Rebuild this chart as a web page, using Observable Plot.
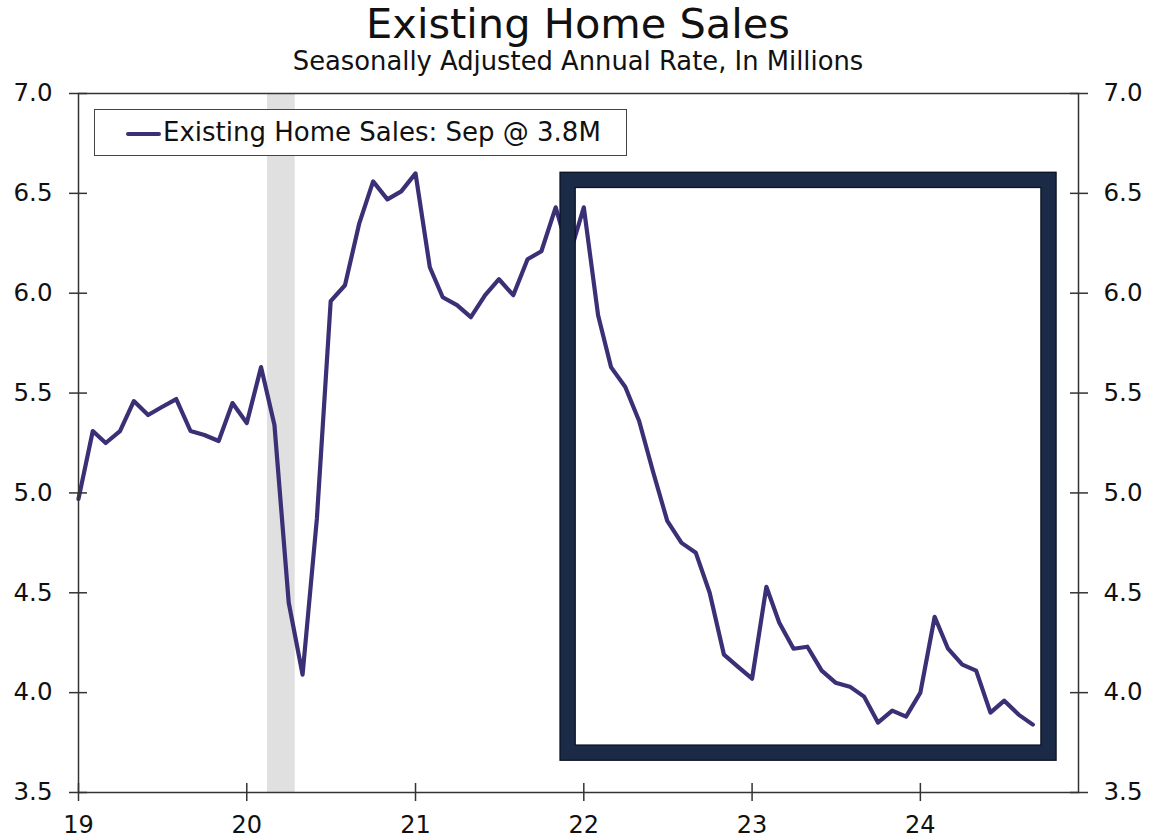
<!DOCTYPE html>
<html>
<head>
<meta charset="utf-8">
<script src="https://cdn.jsdelivr.net/npm/d3@7"></script>
<script src="https://cdn.jsdelivr.net/npm/@observablehq/plot@0.6"></script>
<style>
  html, body { margin: 0; padding: 0; background: #fff; }
  #wrap { position: relative; width: 1149px; height: 838px; font-family: "DejaVu Sans", Verdana, sans-serif; color: #111; overflow: hidden; }
  #title { position: absolute; z-index: 2; left: 78px; width: 1000px; top: 3px; text-align: center; font-size: 41.5px; line-height: 41.5px; white-space: nowrap; }
  #subtitle { position: absolute; z-index: 2; left: 78px; width: 1000px; top: 49px; text-align: center; font-size: 25.8px; line-height: 25.8px; white-space: nowrap; }
  #chart { position: absolute; z-index: 1; left: 0; top: 56px; }
  #chart svg { overflow: visible; }
  #legend { position: absolute; z-index: 3; left: 94px; top: 109px; width: 531px; height: 45px; border: 1.5px solid #444; background: #fff; box-sizing: content-box; }
  #legend .swatch { position: absolute; left: 31px; top: 22px; width: 35px; height: 4px; background: #3b3075; border-radius: 2px; }
  #legend .label { position: absolute; left: 68px; top: 9px; font-size: 26px; line-height: 26px; white-space: nowrap; color: #111; }
</style>
</head>
<body>
<div id="wrap">
  <div id="title"></div>
  <div id="subtitle"></div>
  <div id="chart"></div>
  <div id="legend"><div class="swatch"></div><div class="label"></div></div>
</div>
<script>
// ---- Data ----
const titleText = "Existing Home Sales";
const subtitleText = "Seasonally Adjusted Annual Rate, In Millions";
const legendText = "Existing Home Sales: Sep @ 3.8M";

const startMonth = "2019-01-01";
// Existing home sales, SAAR, millions (Jan 2019 - Sep 2024)
const sales = [
  4.97, 5.31, 5.25, 5.31, 5.46, 5.39, 5.43, 5.47, 5.31, 5.29, 5.26, 5.45,
  5.35, 5.63, 5.34, 4.45, 4.09, 4.87, 5.96, 6.04, 6.35, 6.56, 6.47, 6.51,
  6.60, 6.13, 5.98, 5.94, 5.88, 5.99, 6.07, 5.99, 6.17, 6.21, 6.43, 6.19,
  6.43, 5.89, 5.63, 5.53, 5.36, 5.10, 4.86, 4.75, 4.70, 4.50, 4.19, 4.13,
  4.07, 4.53, 4.35, 4.22, 4.23, 4.11, 4.05, 4.03, 3.98, 3.85, 3.91, 3.88,
  4.00, 4.38, 4.22, 4.14, 4.11, 3.90, 3.96, 3.89, 3.84
];

const xDomain = ["2019-01-01", "2024-12-09"];
const yDomain = [3.5, 7.0];
const yTicks = [3.5, 4.0, 4.5, 5.0, 5.5, 6.0, 6.5, 7.0];
const yearTicks = ["2019-01-01", "2020-01-01", "2021-01-01", "2022-01-01", "2023-01-01", "2024-01-01"];
const yearLabels = ["19", "20", "21", "22", "23", "24"];

// Recession shading
const recession = [{start: "2020-02-15", end: "2020-04-15"}];
// Highlight box
const highlight = [{x1: "2021-11-28", x2: "2024-10-06", y1: 3.697, y2: 6.565}];

// ---- Build ----
const parse = s => new Date(s + "T00:00:00Z");
const start = parse(startMonth);
const series = sales.map((v, i) => ({date: d3.utcMonth.offset(start, i), value: v}));
const recRows = recession.map(d => ({x1: parse(d.start), x2: parse(d.end)}));
const boxRows = highlight.map(d => ({x1: parse(d.x1), x2: parse(d.x2), y1: d.y1, y2: d.y2}));
const yearDates = yearTicks.map(parse);
const yearFmt = new Map(yearDates.map((d, i) => [+d, yearLabels[i]]));

const axisColor = "#333";
const lineColor = "#3b3075";
const boxColor = "#1b2a47";

document.getElementById("title").textContent = titleText;
document.getElementById("subtitle").textContent = subtitleText;
document.querySelector("#legend .label").textContent = legendText;

const chart = Plot.plot({
  width: 1149,
  height: 782,
  marginTop: 37,
  marginBottom: 46,
  marginLeft: 78,
  marginRight: 71,
  style: {fontFamily: "DejaVu Sans, Verdana, sans-serif", fontSize: "24px", color: "#111", background: "transparent", overflow: "visible"},
  x: {type: "utc", domain: xDomain.map(parse)},
  y: {domain: yDomain},
  marks: [
    Plot.rect(recRows, {x1: "x1", x2: "x2", fill: "#e0e0e0"}),
    Plot.line(series, {x: "date", y: "value", stroke: lineColor, strokeWidth: 4.2, strokeLinejoin: "round", strokeLinecap: "round"}),
    Plot.rect(boxRows, {x1: "x1", x2: "x2", y1: "y1", y2: "y2", fill: "none", stroke: "#0b1220", strokeWidth: 16.5}),
    Plot.rect(boxRows, {x1: "x1", x2: "x2", y1: "y1", y2: "y2", fill: "none", stroke: boxColor, strokeWidth: 14}),
    Plot.frame({stroke: axisColor, strokeWidth: 1.5}),
    Plot.axisY({anchor: "left", ticks: yTicks, tickFormat: d3.format(".1f"), tickSize: 18, dx: 9, tickPadding: 17, stroke: axisColor, strokeWidth: 1.5, fontSize: 24.5, fill: "#111", label: null}),
    Plot.axisY({anchor: "right", ticks: yTicks, tickFormat: d3.format(".1f"), tickSize: 18, dx: -9, tickPadding: 16, stroke: axisColor, strokeWidth: 1.5, fontSize: 24.5, fill: "#111", label: null}),
    Plot.axisX({anchor: "bottom", ticks: yearDates, tickFormat: d => yearFmt.get(+d), tickSize: 18, dy: -9, tickPadding: 14, stroke: axisColor, strokeWidth: 1.5, fontSize: 24, fill: "#111", label: null})
  ]
});
document.getElementById("chart").appendChild(chart);
</script>
</body>
</html>
